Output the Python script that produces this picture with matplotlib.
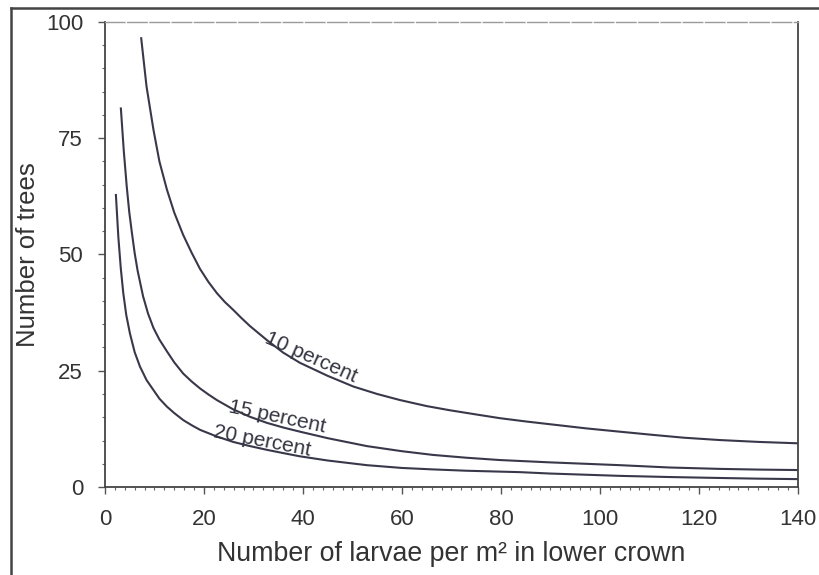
import matplotlib.pyplot as plt
from matplotlib.lines import Line2D
from matplotlib.ticker import MultipleLocator

plt.rcParams["font.family"] = ["Liberation Sans", "DejaVu Sans"]

# Trees needed vs larval density, one curve per precision level
X_10 = [7.3, 8.4, 9.8, 11, 12.5, 14, 15.8, 17.5, 19.2, 20.9, 22.6, 24.2,
        25.9, 27.6, 29.3, 31, 32.7, 36, 39.4, 45, 50.2, 55, 59.6, 65, 69.7,
        75, 79.8, 85, 89.9, 97.3, 104, 110.8, 117, 124.2, 132, 140]
Y_10 = [96.7, 86.1, 76.8, 70.0, 64.0, 59.0, 54.2, 50.4, 46.9, 44.1, 41.7,
        39.8, 38.1, 36.3, 34.6, 33.1, 31.6, 28.9, 26.7, 23.9, 21.6, 20.0,
        18.7, 17.4, 16.5, 15.6, 14.8, 14.1, 13.5, 12.6, 11.9, 11.2, 10.6,
        10.1, 9.7, 9.4]

X_15 = [3.2, 3.8, 4.4, 4.9, 5.4, 6.0, 6.6, 7.7, 8.7, 9.8, 11, 12.5, 14, 15.8,
        17.5, 19.2, 20.9, 22.6, 25.9, 29.3, 32.7, 36, 39.4, 45, 52.9, 60,
        66.3, 73, 79.8, 89.9, 97, 104, 114, 124.2, 132, 140]
Y_15 = [81.6, 72.3, 64.6, 59.2, 55.0, 50.3, 46.5, 41.0, 37.3, 34.2, 31.7,
        29.2, 26.8, 24.4, 22.7, 21.2, 19.9, 18.7, 16.7, 15.1, 13.8, 12.8,
        11.9, 10.5, 8.8, 7.7, 6.9, 6.3, 5.8, 5.3, 5.0, 4.7, 4.2, 3.9, 3.75,
        3.65]

X_20 = [2.2, 2.7, 3.2, 3.7, 4.3, 5.05, 6, 7.07, 8.4, 9.76, 11, 12.5, 14,
        15.8, 17.5, 19.2, 22.5, 25.9, 29.3, 32.7, 36, 39.4, 45, 52.9, 60, 66,
        73.1, 83.8, 89.9, 97, 104, 114, 124, 132, 140]
Y_20 = [63.0, 53.8, 47.0, 41.7, 37.0, 33.0, 29.0, 25.9, 23.0, 20.9, 19.0,
        17.3, 15.9, 14.4, 13.3, 12.3, 10.9, 9.7, 8.8, 8.0, 7.3, 6.6, 5.7, 4.7,
        4.1, 3.8, 3.5, 3.2, 2.9, 2.65, 2.4, 2.15, 1.95, 1.8, 1.7]

CURVE_LABELS = ["10 percent", "15 percent", "20 percent"]

INK = "#38384a"

fig = plt.figure(figsize=(8.2, 5.75), dpi=100)
ax = fig.add_axes([0.128, 0.153, 0.845, 0.809])

for xs, ys in [(X_10, Y_10), (X_15, Y_15), (X_20, Y_20)]:
    ax.plot(xs, ys, color=INK, lw=1.5, solid_capstyle="butt",
            solid_joinstyle="round")

# curve labels sit on the lines, rotated to follow them
label_spots = [(41.2, 26.8, -24), (34.6, 13.8, -12), (31.5, 8.7, -11)]
for text, (lx, ly, rot) in zip(CURVE_LABELS, label_spots):
    ax.text(lx, ly, text, fontsize=15, color="#333340", rotation=rot,
            rotation_mode="anchor", ha="center", va="baseline")

ax.set_xlim(0, 140)
ax.set_ylim(0, 100)
ax.xaxis.set_major_locator(MultipleLocator(20))
ax.xaxis.set_minor_locator(MultipleLocator(2))
ax.yaxis.set_major_locator(MultipleLocator(25))
ax.yaxis.set_minor_locator(MultipleLocator(5))
ax.tick_params(which="major", direction="out", length=4.8, width=1.0,
               color="#555", labelsize=16, labelcolor="#333")
ax.tick_params(which="minor", direction="out", length=2.4, width=0.8,
               color="#666")
ax.tick_params(axis="x", which="major", pad=11)
ax.tick_params(axis="y", which="major", pad=11)

for side in ["left", "bottom", "right"]:
    ax.spines[side].set_color("#444")
    ax.spines[side].set_linewidth(1.3)
ax.spines["top"].set_color("#9a9a9a")
ax.spines["top"].set_linewidth(1.0)
ax.spines["top"].set_linestyle((0, (14, 2)))

ax.set_xlabel("Number of larvae per m² in lower crown", fontsize=19.3,
              color="#333")
ax.set_ylabel("Number of trees", fontsize=18.5, color="#333")
ax.xaxis.set_label_coords(0.499, -0.117)
ax.yaxis.set_label_coords(-0.094, 0.5)

# outer frame of the figure (left and top edges)
fig.add_artist(Line2D([11 / 820, 11 / 820], [0, 1 - 8 / 575],
                      color="#444", lw=1.8, transform=fig.transFigure))
fig.add_artist(Line2D([11 / 820, 1], [1 - 8 / 575, 1 - 8 / 575],
                      color="#444", lw=1.8, transform=fig.transFigure))

fig.savefig("out.png", dpi=100)
